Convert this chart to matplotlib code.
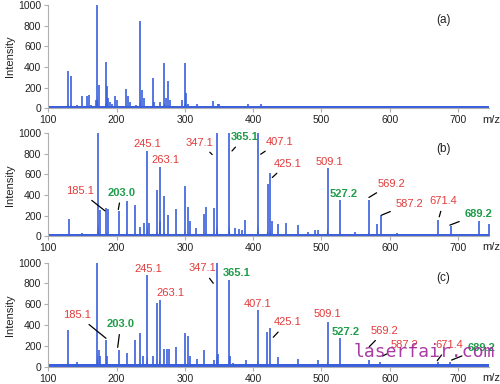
import numpy as np
import matplotlib.pyplot as plt

plt.rcParams['font.family'] = ['Liberation Sans', 'DejaVu Sans']

# Panel (a): peak positions (m/z) and intensities
mz_a = [115, 129, 133, 142, 149, 157, 159, 162, 170, 172, 174, 184, 186, 188, 190, 193,
        198, 200, 214, 216, 219, 229, 235, 237, 240, 253, 255, 263, 270, 272, 276, 278,
        296, 300, 302, 305, 318, 341, 348, 350, 392, 412]
int_a = [25, 360, 310, 30, 115, 120, 125, 35, 80, 1000, 225, 450, 215, 100, 60, 40,
         120, 80, 185, 120, 60, 30, 845, 175, 100, 295, 60, 60, 440, 100, 260, 80,
         80, 440, 145, 40, 40, 70, 45, 40, 40, 40]

# Panel (b)
mz_b = [130, 150, 173, 175, 185, 187, 203, 215, 227, 235, 240, 245, 247, 259, 263, 264,
        270, 276, 287, 300, 305, 307, 317, 328, 331, 343, 347, 365, 374, 379, 383, 388,
        407, 421, 425, 427, 436, 448, 466, 481, 491, 495, 509, 527, 549, 569, 582, 587,
        610, 627, 671, 689, 730, 745]
int_b = [170, 30, 1000, 250, 270, 260, 240, 345, 300, 90, 130, 830, 130, 450, 675, 150,
         390, 210, 260, 485, 285, 150, 80, 220, 285, 270, 1000, 1000, 80, 70, 60, 160,
         1000, 505, 615, 150, 115, 130, 107, 40, 60, 60, 660, 350, 40, 350, 114, 205,
         30, 25, 160, 100, 145, 115]

# Panel (c)
mz_c = [129, 142, 172, 174, 176, 185, 186, 203, 215, 227, 235, 238, 245, 254, 259, 263,
        270, 274, 277, 287, 300, 305, 307, 318, 328, 342, 347, 348, 365, 366, 371, 390,
        407, 420, 425, 437, 466, 495, 509, 527, 569, 586, 671, 688, 730]
int_c = [355, 50, 1000, 160, 100, 255, 100, 165, 130, 255, 320, 100, 880, 100, 615, 645,
         175, 170, 170, 185, 325, 295, 100, 70, 165, 60, 1000, 120, 835, 100, 40, 60,
         545, 335, 375, 90, 70, 60, 425, 280, 60, 50, 50, 45, 25]

baseline = [22, 22, 22]

# Peak labels: (text, colour, text x, text y, line end x, line end y or None)
labels_b = [("185.1", "r", 146, 440, 183, 246), ("203.0", "g", 207, 424, 202.5, 259),
            ("245.1", "r", 245, 893, None, None), ("263.1", "r", 271, 738, None, None),
            ("347.1", "r", 322, 910, 340, 793), ("365.1", "g", 387, 961, 369, 828),
            ("407.1", "r", 438, 916, 411, 796), ("425.1", "r", 450, 705, 428, 570),
            ("509.1", "r", 512, 722, None, None), ("527.2", "g", 533, 405, None, None),
            ("569.2", "r", 603, 511, 569.5, 376), ("587.2", "r", 629, 317, 588, 204),
            ("671.4", "r", 679, 343, 672.5, 188), ("689.2", "g", 730, 214, 688, 107)]
labels_c = [("185.1", "r", 142.5, 497, 184.5, 273), ("203.0", "g", 206, 410, 201.6, 186),
            ("245.1", "r", 246, 939, None, None), ("263.1", "r", 279, 706, None, None),
            ("347.1", "r", 325, 946, 341.6, 802), ("365.1", "g", 376, 898, None, None),
            ("407.1", "r", 407, 602, None, None), ("425.1", "r", 450, 427, 429.4, 283),
            ("509.1", "r", 508, 507, None, None), ("527.2", "g", 535, 337, None, None),
            ("569.2", "r", 593, 346, 570, 192), ("587.2", "r", 622, 209, 589.6, 103),
            ("671.4", "r", 687, 209, 669.6, 58), ("689.2", "g", 734, 177, 690.6, 64)]

blue = "#3a5fdc"
cols = {"r": "#e33b3b", "g": "#1f9d4a"}

fig = plt.figure(figsize=(5, 3.84), dpi=100)
rects = [[0.0966, 0.718, 0.885, 0.269],
         [0.0966, 0.385, 0.885, 0.268],
         [0.0966, 0.045, 0.885, 0.271]]
data = [(mz_a, int_a, [], "(a)"), (mz_b, int_b, labels_b, "(b)"), (mz_c, int_c, labels_c, "(c)")]

for i, (rect, (mz, inten, labs, tag)) in enumerate(zip(rects, data)):
    ax = fig.add_axes(rect)
    ax.set_xlim(100, 748)
    ax.set_ylim(0, 1000)
    ax.fill_between([100, 745], 0, baseline[i], color=blue, lw=0)
    ax.vlines(mz, 0, inten, color=blue, lw=1.2)
    # widen the foot of each peak a little
    for m, h in zip(mz, inten):
        ax.fill([m - 1.5, m, m + 1.5], [0, min(h, 1000) * 0.12, 0], color=blue, lw=0)
    for s in ["top", "right"]:
        ax.spines[s].set_visible(False)
    ax.spines["left"].set_color("#b0b0b0")
    ax.spines["bottom"].set_color("#b0b0b0")
    ax.spines["bottom"].set_bounds(100, 745)
    ax.set_xticks(range(100, 701, 100))
    ax.set_yticks(range(0, 1001, 200))
    ax.tick_params(colors="#b0b0b0", labelcolor="#222222", labelsize=7.5, length=3, pad=2)
    ax.set_ylabel("Intensity", fontsize=8, color="#222222", labelpad=2)
    ax.text(1.0, -0.11, "m/z", transform=ax.transAxes, fontsize=8, ha="center", va="center",
            color="#222222")
    ax.text(679, 850, tag, fontsize=8.5, ha="center", va="center", color="#222222")
    for t, c, tx, ty, lx, ly in labs:
        w = "bold" if c == "g" else "normal"
        if lx is None:
            ax.text(tx, ty, t, color=cols[c], fontsize=8, ha="center", va="center",
                    fontweight=w)
        else:
            ax.annotate(t, xy=(lx, ly), xytext=(tx, ty), color=cols[c], fontsize=8,
                        ha="center", va="center", fontweight=w,
                        arrowprops=dict(arrowstyle="-", color="black", lw=0.9,
                                        shrinkA=2, shrinkB=0))

fig.text(0.848, 0.083, "laserfair.com", color="#a0269a", fontsize=13,
         family="DejaVu Sans Mono", ha="center", va="center", alpha=0.9)

fig.savefig("out.png", dpi=100)
